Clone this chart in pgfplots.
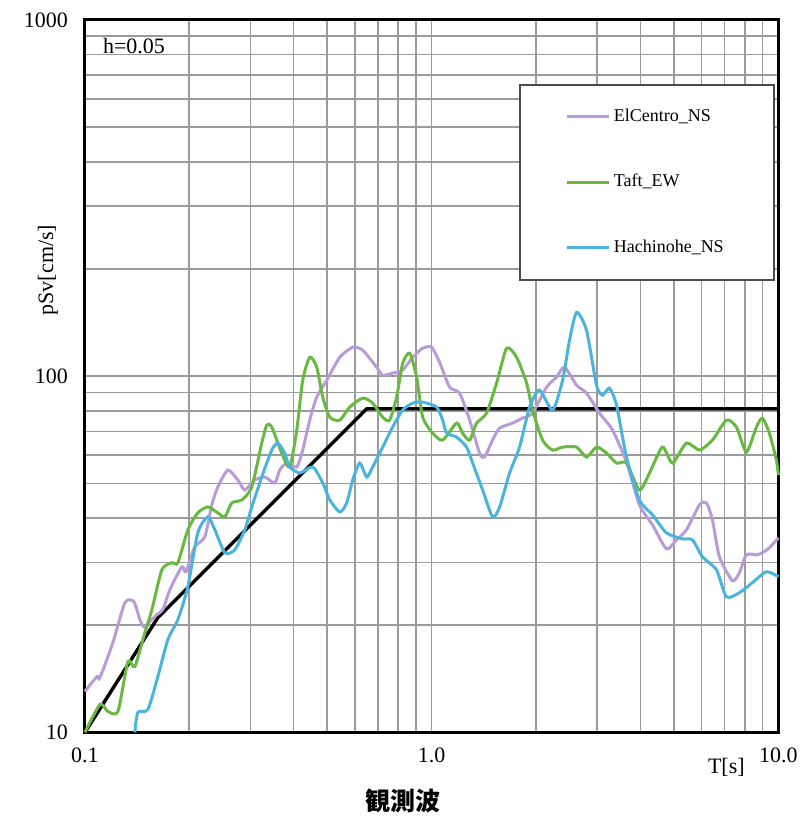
\documentclass[border=0pt]{standalone}
\usepackage{pgfplots}
\pgfplotsset{compat=1.18}
\usepackage{fontspec}
\setmainfont{Liberation Serif}
\newfontfamily\cjk{Noto Sans CJK JP}

\definecolor{elc}{RGB}{185,155,215}
\definecolor{taft}{RGB}{105,185,65}
\definecolor{hachi}{RGB}{75,180,220}
\definecolor{gridc}{RGB}{155,155,155}

\begin{document}
\begin{tikzpicture}
\begin{axis}[
    xmode=log, ymode=log,
    scale only axis,
    width=347pt, height=356.5pt,
    xmin=0.1, xmax=10, ymin=10, ymax=1000,
    xtick={0.1,1,10}, xticklabels={0.1,1.0,10.0},
    ytick={10,100,1000}, yticklabels={10,100,1000},
    minor xtick={0.2,0.3,0.4,0.5,0.6,0.7,0.8,0.9,2,3,4,5,6,7,8,9},
    minor ytick={20,30,40,50,60,70,80,90,200,300,400,500,600,700,800,900},
    major tick length=0pt, minor tick length=0pt,
    grid=both,
    grid style={gridc, line width=0.8pt},
    axis line style={black, line width=1.5pt},
    tick label style={font=\fontsize{11}{12}\selectfont},
    xticklabel style={yshift=-4pt},
    yticklabel style={xshift=-5pt},
    clip=false,
    legend style={at={(0.693,0.880)}, anchor=north west, draw=none, fill=none,
        font=\fontsize{9}{10}\selectfont, row sep=22pt, column sep=0pt,
        inner sep=0pt, nodes={inner sep=1.5pt}},
    legend cell align=left,
    legend image code/.code={\draw[#1] (0pt,0pt) -- (21pt,0pt);},
]
% design spectrum
\addplot[black, line width=1.7pt, forget plot] coordinates {
    (0.1,10) (0.1623,21.0) (0.65,81) (10,81)
};
% ElCentro_NS
\addplot[elc, line width=1.5pt, smooth, tension=0.4] coordinates {
    (0.1,13.03) (0.1083,14.35) (0.1105,14.26) (0.1204,17.87) (0.1304,23.13)
    (0.1384,23.28) (0.1440,20.73) (0.1479,19.82) (0.1539,20.46) (0.1613,21.41)
    (0.1678,22.11) (0.1758,25.16) (0.1903,29.17) (0.1955,28.25) (0.2075,33.19)
    (0.2217,35.40) (0.2323,43.52) (0.2417,48.88) (0.2583,54.54) (0.2760,51.12)
    (0.2891,47.93) (0.3090,51.12) (0.3302,52.12) (0.3528,50.15) (0.3647,54.54)
    (0.3820,57.05) (0.4082,55.60) (0.4248,62.04) (0.4450,75.29) (0.4662,87.33)
    (0.4982,97.45) (0.5433,113.0) (0.5921,120.6) (0.6326,118.3) (0.6941,106.0)
    (0.7224,100.6) (0.7719,102.0) (0.8250,104.0) (0.8815,113.0) (0.9419,119.8)
    (1.0,120.6) (1.054,109.4) (1.127,93.16) (1.204,89.62) (1.287,75.29)
    (1.375,60.85) (1.421,59.31) (1.499,66.17) (1.571,71.51) (1.712,73.85)
    (1.829,76.27) (1.954,78.77) (2.145,93.16) (2.292,99.36) (2.417,106.0)
    (2.618,94.36) (2.797,89.62) (3.049,78.77) (3.324,70.60) (3.647,57.42)
    (3.975,43.52) (4.335,38.25) (4.754,32.77) (5.082,34.72) (5.430,37.04)
    (5.921,43.52) (6.203,44.09) (6.454,39.51) (6.760,31.12) (7.369,26.66)
    (7.719,28.07) (8.085,31.52) (8.642,31.52) (8.993,31.93) (9.419,32.98)
    (10,35.17)
};
% Taft_EW
\addplot[taft, line width=1.5pt, smooth, tension=0.4] coordinates {
    (0.1,10) (0.1105,11.98) (0.1165,11.45) (0.1245,11.45) (0.1330,15.80)
    (0.1393,15.31) (0.1489,19.06) (0.1560,22.11) (0.1667,28.61) (0.1781,29.94)
    (0.1854,29.94) (0.1981,37.04) (0.2116,41.33) (0.2262,42.96) (0.2417,41.33)
    (0.2532,40.27) (0.2653,44.09) (0.2836,44.95) (0.3029,48.88) (0.3236,64.91)
    (0.3346,72.91) (0.3458,71.97) (0.3696,60.85) (0.3897,55.60) (0.4082,70.60)
    (0.4248,97.45) (0.4450,113.0) (0.4662,106.0) (0.4852,87.33) (0.5082,76.76)
    (0.5433,75.29) (0.5803,81.89) (0.6326,86.79) (0.6761,84.03) (0.7224,76.76)
    (0.7566,75.29) (0.7925,87.33) (0.8250,108.7) (0.8642,116.0) (0.9054,99.36)
    (0.9419,76.76) (1.0067,69.22) (1.0758,66.17) (1.180,73.85) (1.228,69.22)
    (1.287,66.17) (1.348,73.85) (1.440,78.77) (1.539,95.59) (1.645,119.8)
    (1.758,113.0) (1.879,95.59) (1.954,80.32) (2.089,66.17) (2.233,62.04)
    (2.386,63.25) (2.618,63.25) (2.797,59.31) (2.989,63.25) (3.194,60.85)
    (3.413,57.05) (3.647,57.05) (3.975,47.93) (4.249,53.49) (4.630,63.25)
    (4.949,57.05) (5.430,64.91) (5.921,62.04) (6.454,66.17) (7.081,75.29)
    (7.568,71.97) (8.085,61.24) (8.642,71.97) (8.993,76.27) (9.419,69.22)
    (9.867,58.17) (10,52.81)
};
% Hachinohe_NS
\addplot[hachi, line width=1.5pt, smooth, tension=0.4] coordinates {
    (0.1393,10) (0.1421,11.38) (0.1519,11.60) (0.1623,14.35) (0.1735,18.22)
    (0.1854,20.73) (0.1981,25.64) (0.2116,36.33) (0.2262,40.27) (0.2370,37.04)
    (0.2532,31.93) (0.2706,32.56) (0.2891,37.04) (0.3029,42.96) (0.3236,52.12)
    (0.3458,62.04) (0.3599,64.91) (0.3770,60.85) (0.3897,55.60) (0.4165,53.49)
    (0.4541,55.60) (0.4852,50.15) (0.5082,44.95) (0.5433,41.59) (0.5689,44.09)
    (0.5921,51.12) (0.6202,57.05) (0.6497,52.12) (0.6761,55.60) (0.7224,63.25)
    (0.7719,71.97) (0.8250,80.32) (0.8815,84.03) (0.9419,84.57) (1.0337,81.89)
    (1.0758,75.29) (1.1047,69.22) (1.180,67.46) (1.261,63.25) (1.313,57.05)
    (1.403,47.93) (1.499,40.27) (1.571,42.96) (1.678,53.49) (1.793,63.25)
    (1.916,81.89) (2.047,91.38) (2.233,80.32) (2.386,97.45) (2.498,126.1)
    (2.618,151.1) (2.797,134.5) (2.989,94.36) (3.110,88.47) (3.258,92.55)
    (3.413,82.95) (3.647,59.31) (3.975,44.95) (4.335,40.80) (4.754,36.33)
    (5.288,34.95) (5.651,34.72) (6.039,31.12) (6.627,28.61) (7.081,24.03)
    (7.719,24.66) (8.414,26.32) (9.235,28.25) (10,27.35)
};
\legend{ElCentro\_NS, Taft\_EW, Hachinohe\_NS}
% legend frame
\draw[black!70, line width=0.8pt, fill=white]
    (rel axis cs:0.627,0.635) rectangle (rel axis cs:0.994,0.909);
% texts
\node[anchor=west, font=\fontsize{11}{12}\selectfont] at (rel axis cs:0.016,0.9635) {h=0.05};
\node[rotate=90, font=\fontsize{11}{12}\selectfont] at (rel axis cs:0,0.649) [xshift=0pt, yshift=18.5pt] {pSv[cm/s]};
\node[font=\fontsize{11}{12}\selectfont] at (rel axis cs:0.925,0) [yshift=-17.5pt] {T[s]};
\node[font=\cjk\bfseries\fontsize{12.5}{14}\selectfont] at (rel axis cs:0.458,0) [yshift=-34.5pt] {観測波};
% page frame
\path (rel axis cs:-0.12248,-0.12202) rectangle (rel axis cs:1.03746,1.02805);
\end{axis}
\end{tikzpicture}
\end{document}
